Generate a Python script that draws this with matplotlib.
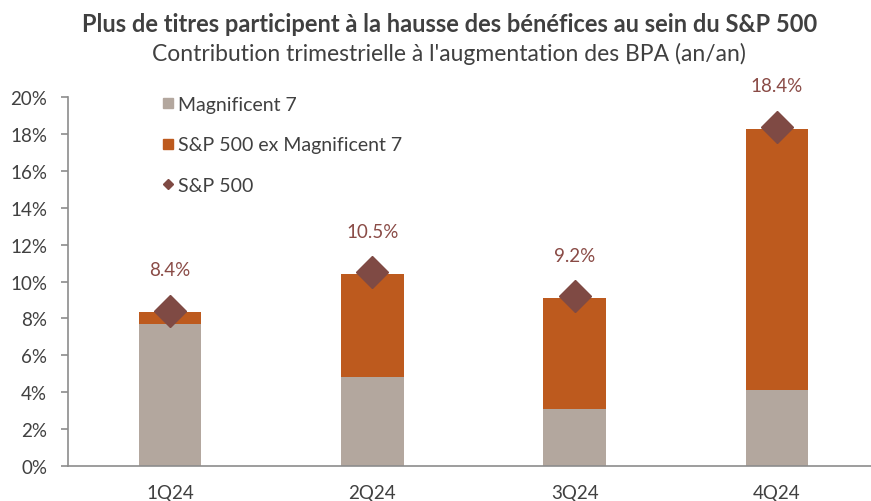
import numpy as np
import matplotlib.pyplot as plt
from matplotlib.lines import Line2D

quarters = ["1Q24", "2Q24", "3Q24", "4Q24"]
mag7 = [7.7, 4.85, 3.1, 4.1]
ex_mag7 = [0.65, 5.55, 6.0, 14.15]
sp500 = [8.4, 10.5, 9.2, 18.4]
sp500_labels = ["8.4%", "10.5%", "9.2%", "18.4%"]
yticks = [0, 2, 4, 6, 8, 10, 12, 14, 16, 18, 20]

plt.rcParams['font.family'] = ['Lato', 'DejaVu Sans']

c_gray = "#B3A79E"
c_orange = "#BD5A1E"
c_diamond = "#7F4A44"
c_label = "#8A4B46"
c_text = "#404040"
c_axis = "#8C8C8C"

fig = plt.figure(figsize=(8.71, 5.02), dpi=100)
ax = fig.add_axes([0.078, 0.0697, 0.922, 0.735])

x = np.arange(len(quarters))
w = 0.31
ax.bar(x, mag7, w, color=c_gray, zorder=2)
ax.bar(x, ex_mag7, w, bottom=mag7, color=c_orange, zorder=2)
ax.plot(x, sp500, linestyle="none", marker="D", markersize=16, color=c_diamond, zorder=3)

for xi, v, t in zip(x, sp500, sp500_labels):
    ax.annotate(t, (xi, v), xytext=(0, 23.5), textcoords="offset points",
                ha="center", va="bottom", fontsize=13.5, color=c_label)

ax.set_xlim(-0.505, 3.465)
ax.set_ylim(0, 20)
ax.set_yticks(yticks)
ax.set_yticklabels([f"{t}%" for t in yticks])
ax.set_xticks(x)
ax.set_xticklabels(quarters)

for s in ["top", "right"]:
    ax.spines[s].set_visible(False)
for s in ["left", "bottom"]:
    ax.spines[s].set_color(c_axis)
    ax.spines[s].set_linewidth(1.2)
ax.tick_params(axis="y", colors=c_axis, labelcolor=c_text, labelsize=13.5,
               length=5, width=1.2, pad=10)
ax.tick_params(axis="x", length=0, labelcolor=c_text, labelsize=13.5, pad=13)

handles = [
    Line2D([], [], linestyle="none", marker="s", markersize=7.5, color=c_gray),
    Line2D([], [], linestyle="none", marker="s", markersize=7.5, color=c_orange),
    Line2D([], [], linestyle="none", marker="D", markersize=5, color=c_diamond),
]
names = ["Magnificent 7", "S&P 500 ex Magnificent 7", "S&P 500"]
ax.legend(handles, names, loc="upper left", bbox_to_anchor=(0.095, 1.05), frameon=False,
          fontsize=14, labelspacing=1.2, handlelength=0.6,
          handletextpad=0.25, labelcolor=c_text)

fig.text(0.516, 0.952, "Plus de titres participent à la hausse des bénéfices au sein du S&P 500",
         ha="center", va="center", fontsize=17, fontweight="bold", color=c_text)
fig.text(0.516, 0.893, "Contribution trimestrielle à l'augmentation des BPA (an/an)",
         ha="center", va="center", fontsize=16.5, color=c_text)

fig.savefig("out.png", dpi=100)
